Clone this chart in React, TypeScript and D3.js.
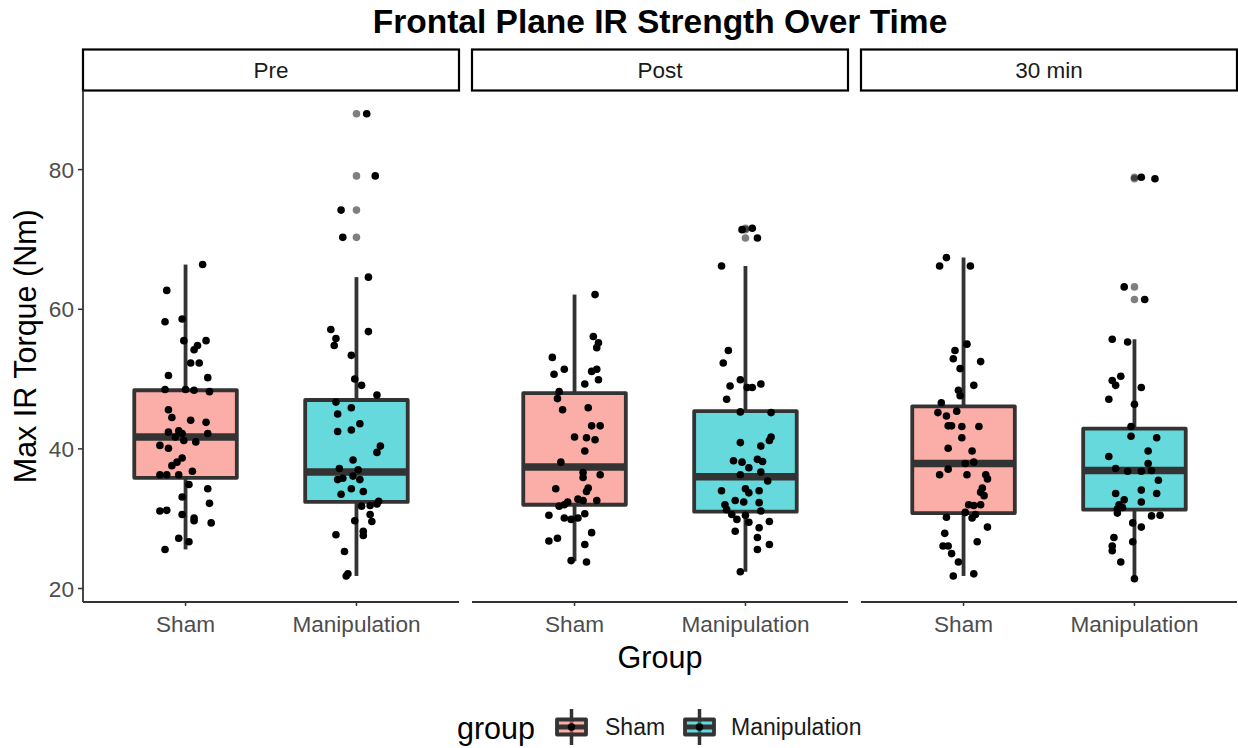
import React from "react";
import * as d3 from "d3";

// Facets, groups and axis ticks
const times = ["Pre", "Post", "30 min"];
const groups = ["Sham", "Manipulation"];
const yTicks = [20, 40, 60, 80];
const groupFill = ["#F8766D", "#00BFC4"];

// Per-subject torque values (Nm) and horizontal jitter (hundredths of a category step)
const preShamValues = [66.4, 62.7, 58.2, 58.6, 55.5, 55.5, 54.8, 54.2, 52.3, 52.3, 50.5, 50.2, 48.5, 48.5, 48.4, 48.2, 45.6, 44.5, 44.1, 43.8, 42.4, 42.6, 42.2, 42.2, 41.7, 41.2, 41.0, 40.5, 40.1, 38.7, 38.1, 37.6, 36.3, 36.3, 36.3, 36.8, 34.9, 34.3, 33.1, 32.2, 31.1, 31.2, 30.6, 30.1, 29.7, 29.4, 27.2, 26.7, 25.6];
const preShamJitter = [10, -11, -12, -2, -1, 12, 7, 5, 3, 8, -10, 13, -12, 0, 5, 14, -10, -8, 3, 12, -10, -4, -2, 13, -6, -1, 6, -15, -10, -2, -5, -8, -15, -11, -4, 4, 2, 13, -2, 14, -15, -11, -2, 5, 5, 15, -4, 2, -12];

const preManipValues = [88.0, 79.1, 74.2, 70.3, 64.6, 57.1, 55.8, 54.8, 56.8, 53.4, 50.0, 49.1, 47.7, 46.7, 45.9, 45.0, 43.6, 42.5, 42.7, 40.4, 39.5, 38.4, 37.2, 37.0, 35.6, 35.8, 36.1, 35.6, 34.3, 33.9, 33.5, 31.8, 31.9, 32.1, 32.5, 30.6, 29.7, 29.6, 28.2, 27.6, 27.7, 25.3, 22.1, 21.8];
const preManipJitter = [6, 11, -9, -8, 7, -15, -12, -13, 7, -3, -1, 3, 12, -12, -3, -11, 2, -11, -3, 14, 12, -2, -10, 1, -11, -8, -2, 2, -3, 4, -9, 3, 8, 12, 13, 8, -1, 9, 4, 4, -12, -7, -5, -6];

const postShamValues = [62.1, 56.1, 55.2, 54.5, 53.1, 50.7, 51.4, 51.1, 51.4, 49.9, 49.3, 48.2, 47.2, 45.6, 45.9, 43.3, 43.3, 41.7, 41.6, 41.3, 39.7, 38.1, 36.6, 36.3, 35.9, 34.3, 34.4, 33.9, 32.8, 32.6, 32.6, 31.8, 32.0, 32.4, 30.5, 30.1, 29.9, 30.1, 30.7, 28.0, 26.8, 27.2, 26.3, 24.0, 23.8];
const postShamJitter = [12, 11, 14, 13, -13, -12, -6, 10, 13, 14, 6, -9, -10, -7, 8, 10, 15, 0, 7, 12, 6, -8, 5, 15, 5, -11, 8, 7, 2, 5, 13, -9, -6, -4, -15, -6, -2, 2, 6, 10, -15, -10, 6, -2, 7];

const postManipValues = [71.4, 71.6, 70.2, 66.2, 54.1, 52.3, 49.9, 49.0, 48.8, 48.8, 49.3, 47.1, 45.3, 45.2, 41.7, 41.2, 40.9, 40.4, 38.3, 38.1, 38.5, 38.2, 37.3, 36.7, 36.3, 35.4, 34.0, 34.3, 33.7, 34.0, 32.6, 32.4, 32.3, 32.0, 31.3, 31.1, 30.6, 29.9, 30.5, 29.5, 29.6, 28.7, 28.2, 27.3, 26.3, 25.6, 22.4];
const postManipJitter = [-2, 4, 7, -14, -10, -13, -3, -9, 1, 4, 9, -11, -3, 15, 15, 14, -3, 9, -7, -2, 7, 10, 2, 9, -3, 13, -14, 0, 2, 8, -6, -1, 8, -12, -11, 9, -8, -5, 0, 2, 14, 8, -6, 7, 14, 7, -3];

const min30ShamValues = [67.4, 66.2, 66.2, 55.0, 54.1, 52.9, 52.5, 51.5, 49.1, 48.4, 47.6, 46.6, 45.2, 44.7, 45.4, 43.3, 43.3, 43.2, 43.2, 41.6, 40.1, 39.7, 37.9, 38.1, 37.1, 36.3, 36.3, 36.3, 35.7, 34.4, 33.8, 33.3, 32.0, 31.9, 32.0, 30.9, 30.1, 30.6, 30.2, 28.8, 27.9, 26.7, 26.1, 26.1, 25.0, 23.8, 21.8, 22.1];
const min30ShamJitter = [-10, -14, 4, 2, -5, -6, 10, -2, 6, -3, -2, -13, -15, -10, -4, -9, -7, -1, 9, -1, -9, 5, 1, 6, -9, -14, 2, 13, 14, 11, 10, 12, 3, 6, 10, 1, 5, 7, -10, 14, -11, 8, -12, -9, -7, -3, -6, 6];

const min30ManipValues = [78.9, 78.7, 63.2, 61.4, 55.7, 55.3, 50.4, 49.8, 49.1, 48.8, 47.1, 46.4, 43.2, 41.8, 41.6, 39.7, 38.9, 37.9, 37.2, 36.8, 36.8, 36.9, 35.5, 34.1, 33.6, 33.6, 32.7, 32.4, 32.0, 31.4, 31.6, 30.8, 30.4, 30.5, 29.4, 28.8, 27.3, 26.7, 26.1, 25.4, 23.8, 21.4];
const min30ManipJitter = [4, 12, -6, 6, -13, -4, -8, -13, -11, 4, -15, 0, -2, -2, 13, 8, -15, 8, -11, -4, 4, 10, 14, 4, 13, -11, -6, 4, -9, -10, -7, -10, 10, 15, -1, 4, -12, -1, -13, -13, -8, 0];

// Box statistics, ordered Pre/Sham, Pre/Manip, Post/Sham, Post/Manip, 30 min/Sham, 30 min/Manip
const whiskerLow = [25.6, 21.8, 23.9, 22.4, 21.8, 21.4];
const quartile1 = [35.85, 32.4, 32.0, 31.0, 30.8, 31.3];
const medians = [41.7, 36.7, 37.4, 36.0, 37.9, 36.9];
const quartile3 = [48.4, 47.0, 48.0, 45.4, 46.1, 42.9];
const whiskerHigh = [66.4, 64.6, 62.1, 66.2, 67.4, 55.7];

// Boxplot outliers (same order)
const preShamOutliers: number[] = [];
const preManipOutliers = [88.0, 79.1, 74.2, 70.3];
const postShamOutliers: number[] = [];
const postManipOutliers = [71.4, 71.6, 70.2];
const min30ShamOutliers: number[] = [];
const min30ManipOutliers = [78.9, 78.7, 63.2, 61.4];

const pointValues = [preShamValues, preManipValues, postShamValues, postManipValues, min30ShamValues, min30ManipValues];
const pointJitter = [preShamJitter, preManipJitter, postShamJitter, postManipJitter, min30ShamJitter, min30ManipJitter];
const outliers = [preShamOutliers, preManipOutliers, postShamOutliers, postManipOutliers, min30ShamOutliers, min30ManipOutliers];

const FONT = "'Liberation Sans', Arial, Helvetica, sans-serif";
const BOX_STROKE = "#333333";

export default function App() {
  const width = 1238;
  const height = 748;

  const facet = d3.scaleBand<string>().domain(times).range([83, 1237]).paddingInner(0.0334);
  const panelW = facet.bandwidth();
  const x = d3.scaleLinear().domain([-0.6, 1.6]).range([0, panelW]);
  const y = d3.scaleLinear().domain([18.07, 91.33]).range([602, 90.5]);
  const panelTop = y(91.33);
  const panelBottom = y(18.07);
  const boxHalf = x(0.3) - x(0);
  const ptR = 3.8;

  const legendKey = (cx: number, fill: string) => {
    const top = 719.5, bottom = 734.5, mid = 727;
    return (
      <g>
        <line x1={cx} x2={cx} y1={709} y2={745} stroke={BOX_STROKE} strokeWidth={3.5} />
        <rect x={cx - 14.5} y={top} width={29} height={bottom - top} fill={fill} fillOpacity={0.6} stroke={BOX_STROKE} strokeWidth={3.8} strokeLinejoin="round" />
        <line x1={cx - 14.5} x2={cx + 14.5} y1={mid} y2={mid} stroke={BOX_STROKE} strokeWidth={5} />
        <circle cx={cx} cy={mid} r={ptR} fill="#000" />
      </g>
    );
  };

  return (
    <svg width={width} height={height} style={{ position: "absolute", left: 0, top: 0, background: "#fff" }} fontFamily={FONT}>
      <rect width={width} height={height} fill="#fff" />

      {/* Title */}
      <text x={660} y={33} textAnchor="middle" fontSize={33.5} fontWeight="bold" fill="#000">
        Frontal Plane IR Strength Over Time
      </text>

      {times.map((t, ti) => {
        const x0 = facet(t)!;
        return (
          <g key={t}>
            {/* Strip */}
            <rect x={x0} y={49.5} width={panelW} height={panelTop - 49.5} fill="#fff" stroke="#000" strokeWidth={2.2} />
            <text x={x0 + panelW / 2} y={78} textAnchor="middle" fontSize={22.5} fill="#1A1A1A">
              {t}
            </text>

            {/* Bottom axis */}
            <line x1={x0} x2={x0 + panelW} y1={panelBottom} y2={panelBottom} stroke="#333" strokeWidth={1.8} />
            {groups.map((g, gi) => (
              <g key={g}>
                <line x1={x0 + x(gi)} x2={x0 + x(gi)} y1={panelBottom} y2={panelBottom + 4} stroke="#333" strokeWidth={1.5} />
                <text x={x0 + x(gi)} y={632} textAnchor="middle" fontSize={22.6} fill="#4D4D4D">
                  {g}
                </text>
              </g>
            ))}

            {/* Boxes */}
            {groups.map((g, gi) => {
              const k = ti * 2 + gi;
              const cx = x0 + x(gi);
              return (
                <g key={g}>
                  <line x1={cx} x2={cx} y1={y(quartile3[k])} y2={y(whiskerHigh[k])} stroke={BOX_STROKE} strokeWidth={3.8} />
                  <line x1={cx} x2={cx} y1={y(quartile1[k])} y2={y(whiskerLow[k])} stroke={BOX_STROKE} strokeWidth={3.8} />
                  <rect
                    x={cx - boxHalf}
                    y={y(quartile3[k])}
                    width={boxHalf * 2}
                    height={y(quartile1[k]) - y(quartile3[k])}
                    fill={groupFill[gi]}
                    fillOpacity={0.6}
                    stroke={BOX_STROKE}
                    strokeWidth={3.8}
                    strokeLinejoin="round"
                  />
                  <line x1={cx - boxHalf} x2={cx + boxHalf} y1={y(medians[k])} y2={y(medians[k])} stroke={BOX_STROKE} strokeWidth={7.5} />
                  {outliers[k].map((v, i) => (
                    <circle key={"o" + i} cx={cx} cy={y(v)} r={ptR} fill="#000" fillOpacity={0.5} />
                  ))}
                </g>
              );
            })}

            {/* Jittered points */}
            {groups.map((g, gi) => {
              const k = ti * 2 + gi;
              return (
                <g key={"p" + g}>
                  {pointValues[k].map((v, i) => (
                    <circle key={i} cx={x0 + x(gi + pointJitter[k][i] / 100)} cy={y(v)} r={ptR} fill="#000" />
                  ))}
                </g>
              );
            })}
          </g>
        );
      })}

      {/* Y axis */}
      <line x1={83} x2={83} y1={panelTop} y2={panelBottom} stroke="#333" strokeWidth={1.8} />
      {yTicks.map((t) => (
        <g key={t}>
          <line x1={78} x2={83} y1={y(t)} y2={y(t)} stroke="#333" strokeWidth={1.5} />
          <text x={74} y={y(t) + 8} textAnchor="end" fontSize={22.6} fill="#4D4D4D">
            {t}
          </text>
        </g>
      ))}

      {/* Axis titles */}
      <text transform={`translate(36,${(panelTop + panelBottom) / 2}) rotate(-90)`} textAnchor="middle" fontSize={30.5} fill="#000">
        Max IR Torque (Nm)
      </text>
      <text x={660} y={668} textAnchor="middle" fontSize={30.5} fill="#000">
        Group
      </text>

      {/* Legend */}
      <text x={457} y={739} fontSize={30.5} fill="#000">group</text>
      {legendKey(571.5, groupFill[0])}
      <text x={605} y={735} fontSize={23} fill="#1A1A1A">{groups[0]}</text>
      {legendKey(699.5, groupFill[1])}
      <text x={731} y={735} fontSize={23} fill="#1A1A1A">{groups[1]}</text>
    </svg>
  );
}
